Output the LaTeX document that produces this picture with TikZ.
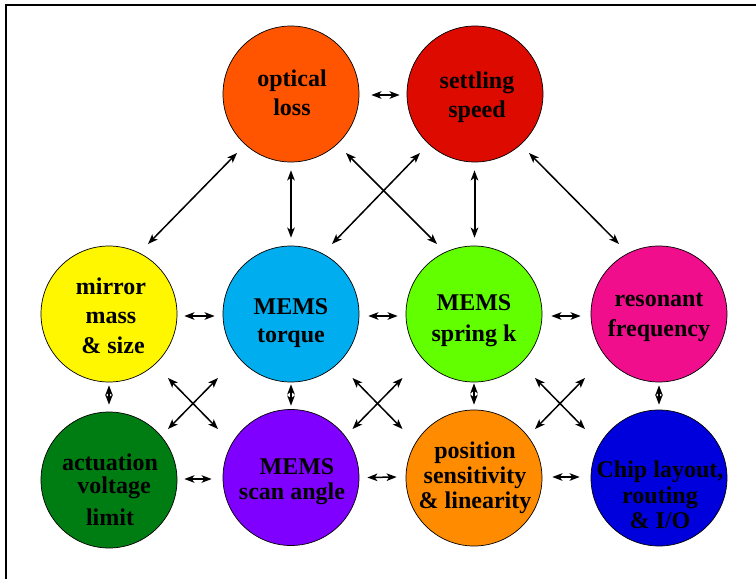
\documentclass[tikz,border=0pt]{standalone}
\usepackage{fontspec}
\setmainfont{Liberation Serif}
\usetikzlibrary{arrows.meta,calc}
\definecolor{cOL}{RGB}{255,85,0}
\definecolor{cSS}{RGB}{221,10,0}
\definecolor{cMM}{RGB}{255,247,0}
\definecolor{cMT}{RGB}{0,174,239}
\definecolor{cSP}{RGB}{98,255,0}
\definecolor{cRF}{RGB}{240,14,140}
\definecolor{cAV}{RGB}{0,125,18}
\definecolor{cSA}{RGB}{128,0,255}
\definecolor{cPS}{RGB}{255,140,0}
\definecolor{cCH}{RGB}{0,0,221}
\begin{document}
\begin{tikzpicture}[x=1pt,y=-1pt,
  bub/.style={circle, draw=black, line width=0.7pt, minimum size=136pt, inner sep=0pt},
  lbl/.style={align=center, font={\bfseries\fontsize{24}{#1}\selectfont}, inner sep=0pt},
  arr/.style={line width=1.5pt, {Stealth[length=10pt,width=7.5pt,inset=2.5pt]}-{Stealth[length=10pt,width=7.5pt,inset=2.5pt]}}]
\useasboundingbox (0,0) rectangle (756,579);
\draw[line width=2pt] (5.7,600) -- (5.7,4.7) -- (800,4.7);

% circles
\node[bub, fill=cOL] (ol) at (291,94) {};
\node[bub, fill=cSS] (ss) at (475,94) {};
\node[bub, fill=cMM] (mm) at (109,314) {};
\node[bub, fill=cMT] (mt) at (291,314) {};
\node[bub, fill=cSP] (sp) at (474,314) {};
\node[bub, fill=cRF] (rf) at (659,314) {};
\node[bub, fill=cAV] (av) at (109,480) {};
\node[bub, fill=cSA] (sa) at (291,477.5) {};
\node[bub, fill=cPS] (ps) at (474,478) {};
\node[bub, fill=cCH] (ch) at (659,478) {};

% labels
\node[lbl=29] (olt) at ($(ol)+(1,-1)$) {optical\\loss};
\node[lbl=29] (sst) at ($(ss)+(2,3)$) {settling\\speed};
\node[lbl=29.5] (mmt) at ($(mm)+(2,1.3)$) {mirror\\mass\\\hspace*{4pt}\& size};
\node[lbl=28] (mtt) at ($(mt)+(0,9.5)$) {MEMS\\torque};
\node[lbl=31] (spt) at ($(sp)+(0,7)$) {MEMS\\spring k};
\node[lbl=30] (rft) at ($(rf)+(0,3)$) {resonant\\frequency};
\node[lbl=23] (avt) at ($(av)+(1,10)$) {actuation\\\hspace*{8pt}voltage\\[9pt]limit};
\node[lbl=25] (sat) at ($(sa)+(1,4.5)$) {\hspace*{10pt}MEMS\\scan angle};
\node[lbl=25] (pst) at ($(ps)+(1,-0.7)$) {position\\sensitivity\\\& linearity};
\node[lbl=25.5] (cht) at ($(ch)+(1,16.8)$) {Chip layout,\\routing\\\& I/O};

% top row connectors
\draw[arr] ($(ol.east)+(12,1)$) -- ($(ss.west)+(-7,1)$);
\draw[arr] ($(ol)+(-54,59)$) -- ($(mm)+(39,-70)$);
\draw[arr] ($(ol)+(55,59)$) -- ($(sp)+(-37,-70)$);
\draw[arr] ($(ss)+(-55,59)$) -- ($(mt)+(41,-70)$);
\draw[arr] ($(ss)+(54,59)$) -- ($(rf)+(-40,-70)$);
\draw[arr] ($(ol.south)+(0,8)$) -- ($(mt.north)+(0,-8)$);
\draw[arr, line width=2pt] ($(ss.south)+(-0.5,8)$) -- ($(sp.north)+(0.5,-8)$);

% middle row connectors
\draw[arr] ($(mm.east)+(7,2)$) -- ($(mt.west)+(-8,2)$);
\draw[arr] ($(mt.east)+(9,2)$) -- ($(sp.west)+(-8,2)$);
\draw[arr] ($(sp.east)+(9,2)$) -- ($(rf.west)+(-10,2)$);

% vertical short connectors
\draw[arr] ($(mm.south)+(0,3)$) -- ($(av.north)+(0,-7)$);
\draw[arr] ($(mt.south)+(0,2)$) -- ($(sa.north)+(0,-3.5)$);
\draw[arr] ($(sp.south)+(0,1)$) -- ($(ps.north)+(0,-5)$);
\draw[arr] ($(rf.south)+(0,3)$) -- ($(ch.north)+(0,-5)$);

% crosses
\coordinate (x1) at (193,403.5);
\coordinate (x2) at (377.5,403.5);
\coordinate (x3) at (560,403.5);
\foreach \c in {x1,x2,x3}{
  \draw[arr] ($(\c)+(-25,-25.5)$) -- ($(\c)+(25,25.5)$);
  \draw[arr] ($(\c)+(25,-25.5)$) -- ($(\c)+(-25,25.5)$);
}

% bottom row connectors
\draw[arr] ($(av.east)+(7,-1)$) -- ($(sa.west)+(-11,1.5)$);
\draw[arr] ($(sa.east)+(8,0)$) -- ($(ps.west)+(-9,-1)$);
\draw[arr] ($(ps.east)+(10,-1)$) -- ($(ch.west)+(-11,-1)$);
\end{tikzpicture}
\end{document}
